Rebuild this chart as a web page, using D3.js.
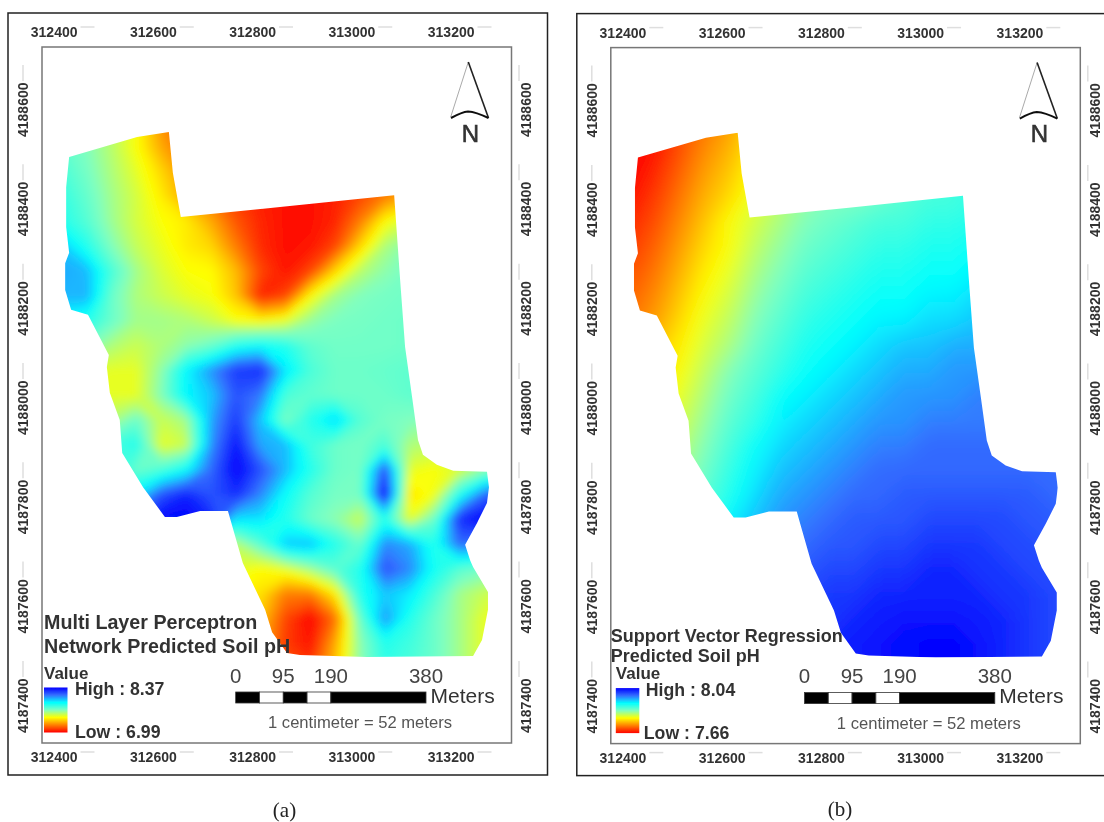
<!DOCTYPE html>
<html>
<head>
<meta charset="utf-8">
<script src="https://cdn.jsdelivr.net/npm/d3@7"></script>
<style>
  html, body { margin: 0; background: #fff; }
  svg { display: block; }
  text { font-family: "Liberation Sans", Arial, sans-serif; }
</style>
</head>
<body>
<svg id="chart" width="1104" height="822"></svg>
<script>
const xTicks = [312400, 312600, 312800, 313000, 313200];
const yTicks = [4188600, 4188400, 4188200, 4188000, 4187800, 4187600, 4187400];
const scaleTicks = [0, 95, 190, 380];
const scaleSegments = [0, 47.5, 95, 142.5, 190, 380];

// field boundary, easting / northing
const boundary = [
  [312364, 4188430], [312501, 4188470], [312565, 4188480], [312573, 4188398], [312589, 4188309],
  [312789, 4188329], [313019, 4188353], [313031, 4188182], [313041, 4188047], [313055, 4187947],
  [313067, 4187860], [313077, 4187830], [313105, 4187810], [313138, 4187798], [313206, 4187796],
  [313210, 4187765], [313206, 4187733], [313186, 4187693], [313162, 4187649], [313172, 4187618],
  [313178, 4187604], [313208, 4187554], [313208, 4187518], [313196, 4187457], [313178, 4187425],
  [312964, 4187423], [312829, 4187427], [312803, 4187431], [312773, 4187473], [312759, 4187518],
  [312714, 4187612], [312684, 4187717], [312628, 4187717], [312581, 4187705], [312557, 4187705],
  [312513, 4187765], [312471, 4187834], [312466, 4187900], [312446, 4187955], [312440, 4188007],
  [312444, 4188031], [312402, 4188112], [312368, 4188122], [312356, 4188162], [312356, 4188216],
  [312364, 4188237], [312358, 4188289], [312358, 4188369]
];

const gridEastings = [312350, 312400, 312450, 312500, 312550, 312600, 312650, 312700, 312750, 312800,
  312850, 312900, 312950, 313000, 313050, 313100, 313150, 313200, 313250];
const gridNorthings = [4188500, 4188450, 4188400, 4188350, 4188300, 4188250, 4188200, 4188150, 4188100,
  4188050, 4188000, 4187950, 4187900, 4187850, 4187800, 4187750, 4187700, 4187650, 4187600, 4187550,
  4187500, 4187450, 4187400];

// predicted pH on the grid, north to south
const mlpValues = [
  [7.72,7.68,7.60,7.46,7.25,7.15,7.08,7.06,7.04,7.04,7.04,7.06,7.12,7.20,7.30,7.40,7.50,7.60,7.65],
  [7.74,7.68,7.58,7.46,7.30,7.18,7.12,7.07,7.04,7.04,7.04,7.06,7.12,7.20,7.30,7.40,7.50,7.60,7.65],
  [7.78,7.70,7.60,7.50,7.38,7.25,7.15,7.08,7.04,7.03,7.03,7.05,7.12,7.20,7.30,7.40,7.50,7.60,7.65],
  [7.82,7.73,7.62,7.53,7.42,7.30,7.20,7.10,7.05,7.02,7.02,7.05,7.12,7.22,7.30,7.40,7.50,7.60,7.65],
  [7.85,7.76,7.63,7.53,7.46,7.42,7.30,7.15,7.06,7.02,7.02,7.06,7.22,7.45,7.55,7.60,7.65,7.68,7.70],
  [8.00,7.85,7.68,7.56,7.49,7.42,7.38,7.22,7.07,7.02,7.03,7.12,7.38,7.60,7.68,7.68,7.68,7.68,7.68],
  [8.05,8.02,7.78,7.62,7.52,7.46,7.45,7.33,7.12,7.03,7.12,7.38,7.58,7.66,7.70,7.70,7.70,7.70,7.70],
  [8.03,8.03,7.72,7.60,7.55,7.50,7.47,7.35,7.06,7.12,7.45,7.62,7.68,7.70,7.71,7.71,7.71,7.71,7.71],
  [7.90,7.85,7.72,7.62,7.62,7.60,7.55,7.47,7.45,7.50,7.64,7.69,7.70,7.71,7.72,7.72,7.72,7.72,7.72],
  [7.75,7.70,7.60,7.55,7.60,7.66,7.72,7.85,7.90,7.85,7.74,7.71,7.71,7.71,7.72,7.72,7.72,7.72,7.72],
  [7.55,7.52,7.50,7.50,7.66,7.92,8.08,8.25,8.28,7.95,7.78,7.72,7.72,7.73,7.74,7.74,7.74,7.74,7.74],
  [7.50,7.50,7.50,7.50,7.68,7.92,8.00,8.20,8.12,7.78,7.74,7.72,7.72,7.72,7.74,7.74,7.74,7.74,7.74],
  [7.60,7.60,7.60,7.72,7.55,7.62,8.05,8.25,8.00,7.68,7.85,7.98,7.76,7.70,7.68,7.68,7.68,7.68,7.68],
  [7.80,7.80,7.80,7.85,7.50,7.55,8.08,8.33,8.05,8.02,7.80,7.72,7.70,7.78,7.60,7.58,7.62,7.66,7.70],
  [7.85,7.85,7.85,7.72,7.78,7.90,8.15,8.37,8.20,8.02,7.85,7.72,7.70,8.22,7.50,7.46,7.52,7.65,7.70],
  [7.95,7.95,7.95,7.95,8.20,8.30,8.20,8.28,8.10,7.90,7.76,7.70,7.70,8.37,7.40,7.48,7.85,8.15,8.30],
  [8.10,8.10,8.10,8.20,8.37,8.37,8.30,7.95,7.95,7.85,7.72,7.66,7.55,7.85,7.50,7.72,8.28,8.37,8.37],
  [7.60,7.60,7.60,7.60,7.70,7.70,7.65,7.58,7.75,8.00,8.02,7.85,7.72,8.10,8.05,7.85,8.15,8.10,8.00],
  [7.50,7.50,7.50,7.50,7.50,7.50,7.50,7.50,7.45,7.50,7.62,7.75,7.85,8.20,8.10,7.88,7.75,7.70,7.70],
  [7.45,7.45,7.45,7.45,7.45,7.45,7.45,7.45,7.40,7.22,7.22,7.42,7.85,8.00,7.94,7.78,7.62,7.55,7.50],
  [7.40,7.40,7.40,7.40,7.40,7.40,7.40,7.40,7.35,7.12,7.00,7.20,7.72,8.08,7.85,7.72,7.62,7.50,7.45],
  [7.40,7.40,7.40,7.40,7.40,7.40,7.40,7.40,7.30,7.10,7.03,7.30,7.66,7.85,7.80,7.72,7.62,7.50,7.45],
  [7.40,7.40,7.40,7.40,7.40,7.40,7.40,7.40,7.30,7.15,7.10,7.35,7.66,7.82,7.78,7.72,7.62,7.50,7.45]
];

const svrValues = [
  [7.66,7.67,7.70,7.72,7.74,7.77,7.79,7.81,7.83,7.85,7.86,7.87,7.88,7.89,7.90,7.91,7.92,7.93,7.93],
  [7.66,7.67,7.70,7.73,7.75,7.78,7.80,7.82,7.84,7.85,7.86,7.87,7.88,7.89,7.90,7.91,7.92,7.93,7.94],
  [7.66,7.68,7.71,7.74,7.76,7.79,7.81,7.83,7.84,7.85,7.86,7.87,7.88,7.89,7.90,7.91,7.92,7.93,7.94],
  [7.67,7.69,7.72,7.75,7.77,7.80,7.82,7.84,7.85,7.85,7.86,7.87,7.88,7.88,7.89,7.90,7.92,7.93,7.94],
  [7.68,7.70,7.73,7.76,7.79,7.81,7.83,7.85,7.86,7.87,7.88,7.88,7.89,7.89,7.90,7.91,7.92,7.93,7.94],
  [7.69,7.71,7.74,7.77,7.79,7.82,7.84,7.86,7.87,7.88,7.89,7.89,7.90,7.90,7.91,7.92,7.93,7.94,7.94],
  [7.70,7.72,7.75,7.78,7.80,7.83,7.85,7.87,7.88,7.89,7.90,7.90,7.91,7.91,7.92,7.93,7.94,7.94,7.95],
  [7.71,7.73,7.76,7.79,7.81,7.84,7.86,7.88,7.89,7.90,7.91,7.91,7.92,7.92,7.93,7.94,7.94,7.95,7.95],
  [7.72,7.74,7.77,7.80,7.82,7.85,7.87,7.89,7.90,7.91,7.92,7.92,7.93,7.93,7.94,7.94,7.95,7.95,7.95],
  [7.74,7.76,7.78,7.81,7.83,7.86,7.88,7.90,7.91,7.92,7.93,7.94,7.94,7.95,7.95,7.95,7.96,7.96,7.96],
  [7.75,7.77,7.79,7.82,7.85,7.87,7.89,7.91,7.92,7.93,7.94,7.95,7.95,7.96,7.96,7.96,7.96,7.96,7.96],
  [7.76,7.78,7.80,7.83,7.86,7.88,7.91,7.92,7.93,7.94,7.95,7.96,7.96,7.96,7.97,7.97,7.97,7.97,7.97],
  [7.77,7.79,7.81,7.84,7.87,7.89,7.92,7.93,7.94,7.95,7.96,7.96,7.97,7.97,7.97,7.97,7.97,7.97,7.97],
  [7.78,7.80,7.82,7.85,7.88,7.91,7.93,7.94,7.95,7.96,7.97,7.97,7.98,7.98,7.98,7.98,7.98,7.98,7.98],
  [7.79,7.81,7.83,7.86,7.89,7.92,7.94,7.95,7.96,7.97,7.98,7.98,7.98,7.98,7.98,7.98,7.98,7.98,7.98],
  [7.80,7.82,7.84,7.87,7.90,7.93,7.95,7.96,7.97,7.98,7.98,7.99,7.99,7.99,7.99,7.99,7.99,7.98,7.98],
  [7.81,7.83,7.85,7.88,7.92,7.94,7.96,7.97,7.98,7.99,7.99,7.99,8.00,8.00,8.00,8.00,7.99,7.99,7.98],
  [7.82,7.84,7.86,7.90,7.93,7.95,7.97,7.98,7.99,7.99,8.00,8.00,8.01,8.01,8.01,8.00,8.00,7.99,7.99],
  [7.83,7.85,7.88,7.91,7.94,7.96,7.98,7.99,8.00,8.00,8.01,8.01,8.02,8.02,8.01,8.01,8.00,8.00,7.99],
  [7.84,7.86,7.89,7.92,7.95,7.97,7.98,8.00,8.01,8.01,8.02,8.02,8.02,8.02,8.02,8.01,8.01,8.00,8.00],
  [7.85,7.87,7.90,7.93,7.96,7.98,7.99,8.00,8.01,8.02,8.025,8.03,8.03,8.03,8.025,8.02,8.01,8.00,8.00],
  [7.86,7.88,7.91,7.94,7.97,7.99,8.00,8.01,8.02,8.025,8.03,8.035,8.04,8.04,8.03,8.02,8.01,8.00,8.00],
  [7.86,7.88,7.91,7.94,7.97,7.99,8.00,8.01,8.02,8.025,8.03,8.035,8.04,8.04,8.03,8.02,8.01,8.00,8.00]
];

const rampStops = [0, 1 / 3, 0.5, 2 / 3, 0.83, 1];
const rampColors = ['#ff0000', '#ffff00', '#80ffc0', '#00ffff', '#3570ff', '#0000ff'];

const svg = d3.select('#chart');
const defs = svg.append('defs');

const soften = defs.append('filter').attr('id', 'soften');
soften.append('feGaussianBlur').attr('stdDeviation', 0.45);

// the whole figure is a low-res scan, so everything gets a slight blur
const root = svg.append('g').attr('filter', 'url(#soften)');

// ticks sit at the faint marks, the labels hang off them
const x = d3.scaleLinear().domain([312400, 313200]).range([87, 484]);
const y = d3.scaleLinear().domain([4188600, 4187400]).range([72.5, 668.4]);

const gridX = d3.scaleLinear()
  .domain([0.5, gridEastings.length - 0.5])
  .range([x(gridEastings[0]), x(gridEastings[gridEastings.length - 1])]);
const gridY = d3.scaleLinear()
  .domain([0.5, gridNorthings.length - 0.5])
  .range([y(gridNorthings[0]), y(gridNorthings[gridNorthings.length - 1])]);

const gridPath = d3.geoPath(d3.geoTransform({
  point(c, r) { this.stream.point(gridX(c), gridY(r)); }
}));

function styleTickLabels(axisG) {
  axisG.select('.domain').remove();
  axisG.selectAll('text')
    .attr('font-family', '"Liberation Sans", Arial, sans-serif')
    .attr('font-size', 14)
    .attr('font-weight', 'bold')
    .attr('fill', '#333')
    .attr('x', 0).attr('y', 0).attr('dy', 0);
}

function drawAxes(g) {
  const fmt = d3.format('d');
  [[37, d3.axisTop(x)], [762, d3.axisBottom(x)]].forEach(([py, axis]) => {
    const a = g.append('g').attr('transform', `translate(0,${py})`)
      .call(axis.tickValues(xTicks).tickSize(0).tickFormat(fmt));
    styleTickLabels(a);
    a.selectAll('text').attr('text-anchor', 'end').attr('dx', -10);
    a.selectAll('.tick').append('line')
      .attr('x1', -7).attr('x2', 7).attr('y1', -10).attr('y2', -10)
      .attr('stroke', '#dedede').attr('stroke-width', 1.5);
  });
  [[23, 5, d3.axisLeft(y)], [519, 12, d3.axisRight(y)]].forEach(([px, off, axis]) => {
    const a = g.append('g').attr('transform', `translate(${px},0)`)
      .call(axis.tickValues(yTicks).tickSize(0).tickFormat(fmt));
    styleTickLabels(a);
    a.selectAll('text').attr('text-anchor', 'end')
      .attr('transform', `translate(${off},9.5) rotate(-90)`);
    a.selectAll('.tick').append('line')
      .attr('y1', -8).attr('y2', 8).attr('x1', 0).attr('x2', 0)
      .attr('stroke', '#dedede').attr('stroke-width', 1.5);
  });
}

function drawNorthArrow(g) {
  g.append('path').attr('d', 'M468.3,62 L450.7,117').attr('stroke', '#aaa').attr('stroke-width', 1).attr('fill', 'none');
  g.append('path').attr('d', 'M468.3,62 L488.5,118').attr('stroke', '#222').attr('stroke-width', 1.6).attr('fill', 'none');
  g.append('path').attr('d', 'M451,118 Q462,112 468,111.5 Q476,112 488.5,118')
    .attr('stroke', '#111').attr('stroke-width', 2).attr('fill', 'none');
  g.append('text').attr('x', 470.5).attr('y', 141.5).attr('text-anchor', 'middle')
    .attr('font-size', 24).attr('fill', '#333').attr('stroke', '#333').attr('stroke-width', 0.6).text('N');
}

function drawScaleBar(g) {
  const bar = d3.scaleLinear().domain([0, 380]).range([235.7, 426]);
  g.selectAll('.seg').data(d3.pairs(scaleSegments)).enter().append('rect')
    .attr('class', 'seg')
    .attr('x', (d) => bar(d[0]))
    .attr('width', (d) => bar(d[1]) - bar(d[0]))
    .attr('y', 692).attr('height', 11)
    .attr('fill', (d, i) => (i % 2 ? '#fff' : '#000'))
    .attr('stroke', '#333').attr('stroke-width', 0.8);
  g.selectAll('.seglabel').data(scaleTicks).enter().append('text')
    .attr('class', 'seglabel')
    .attr('x', (d) => bar(d))
    .attr('y', 682.5).attr('text-anchor', 'middle')
    .attr('font-size', 20.5).attr('fill', '#444')
    .text((d) => d);
  g.append('text').attr('x', 430.5).attr('y', 702.5)
    .attr('font-size', 21).attr('fill', '#333').text('Meters');
  g.append('text').attr('x', 268).attr('y', 728)
    .attr('font-size', 16.6).attr('fill', '#555').text('1 centimeter = 52 meters');
}

function drawField(g, id, rows, low, high, blur) {
  const color = d3.scaleLinear()
    .domain(rampStops.map((t) => low + t * (high - low)))
    .range(rampColors)
    .interpolate(d3.interpolateRgb)
    .clamp(true);

  const line = d3.line().x((d) => x(d[0])).y((d) => y(d[1]));
  defs.append('clipPath').attr('id', `clip-${id}`)
    .append('path').attr('d', line(boundary) + 'Z');
  defs.append('filter').attr('id', `blur-${id}`)
    .attr('x', '-5%').attr('y', '-5%').attr('width', '110%').attr('height', '110%')
    .append('feGaussianBlur').attr('stdDeviation', blur);

  // bands come from d3.contours, lowest first so the higher ones paint over
  const contours = d3.contours()
    .size([gridEastings.length, gridNorthings.length])
    .thresholds([low - 1].concat(d3.range(low, high, (high - low) / 200)))
    (rows.flat());

  g.append('g').attr('clip-path', `url(#clip-${id})`)
    .append('g').attr('filter', `url(#blur-${id})`)
    .selectAll('path').data(contours).enter().append('path')
    .attr('d', gridPath)
    .attr('fill', (d) => color(d.value));

  return color;
}

function drawLegend(g, id, color, low, high, o) {
  const grad = defs.append('linearGradient').attr('id', `ramp-${id}`)
    .attr('x1', 0).attr('x2', 0).attr('y1', 0).attr('y2', 1);
  const vals = d3.range(0, 13).map((i) => high - (i / 12) * (high - low));
  grad.selectAll('stop').data(vals).enter().append('stop')
    .attr('offset', (d, i) => i / 12)
    .attr('stop-color', (d) => color(d));
  g.append('rect').attr('x', o.rampX).attr('y', 687.5).attr('width', 23.5).attr('height', 45)
    .attr('fill', `url(#ramp-${id})`);
  g.append('text').attr('x', o.rampX).attr('y', 678.5)
    .attr('font-size', 17).attr('font-weight', 'bold').attr('fill', '#333').text('Value');
  g.append('text').attr('x', o.highX).attr('y', 695)
    .attr('font-size', 17.7).attr('font-weight', 'bold').attr('fill', '#333').text(`High : ${high}`);
  g.append('text').attr('x', o.lowX).attr('y', 738)
    .attr('font-size', 17.7).attr('font-weight', 'bold').attr('fill', '#333').text(`Low : ${low}`);
}

function drawPanel(o) {
  const g = root.append('g').attr('transform', `translate(${o.dx},${o.dy})`);
  g.append('rect').attr('x', 8).attr('y', 13).attr('width', 539.5).attr('height', 762)
    .attr('fill', '#fff').attr('stroke', '#222').attr('stroke-width', 1.5);
  drawAxes(g);
  const color = drawField(g, o.id, o.rows, o.low, o.high, o.blur);
  g.append('rect').attr('x', 42).attr('y', 47).attr('width', 469.5).attr('height', 696)
    .attr('fill', 'none').attr('stroke', '#777').attr('stroke-width', 1.5);
  drawNorthArrow(g);
  o.title.forEach((t, i) => {
    g.append('text').attr('x', o.titleX).attr('y', o.titleY + i * o.titleGap)
      .attr('font-size', o.titleSize).attr('font-weight', 'bold').attr('fill', '#333').text(t);
  });
  drawLegend(g, o.id, color, o.low, o.high, o);
  drawScaleBar(g);
}

drawPanel({
  id: 'mlp', dx: 0, dy: 0, rows: mlpValues, low: 6.99, high: 8.37, blur: 4,
  title: ['Multi Layer Perceptron', 'Network Predicted Soil pH'],
  titleX: 44, titleY: 629, titleGap: 23.5, titleSize: 19.7, rampX: 44, highX: 75, lowX: 75
});
drawPanel({
  id: 'svr', dx: 568.8, dy: 0.6, rows: svrValues, low: 7.66, high: 8.04, blur: 9,
  title: ['Support Vector Regression', 'Predicted Soil pH'],
  titleX: 42, titleY: 641, titleGap: 20, titleSize: 18, rampX: 47, highX: 77, lowX: 75
});

root.append('text').attr('x', 284.5).attr('y', 817).attr('text-anchor', 'middle')
  .style('font-family', '"Liberation Serif", serif')
  .attr('font-size', 21).attr('fill', '#222').text('(a)');
root.append('text').attr('x', 840).attr('y', 816).attr('text-anchor', 'middle')
  .style('font-family', '"Liberation Serif", serif')
  .attr('font-size', 21).attr('fill', '#222').text('(b)');
</script>
</body>
</html>
